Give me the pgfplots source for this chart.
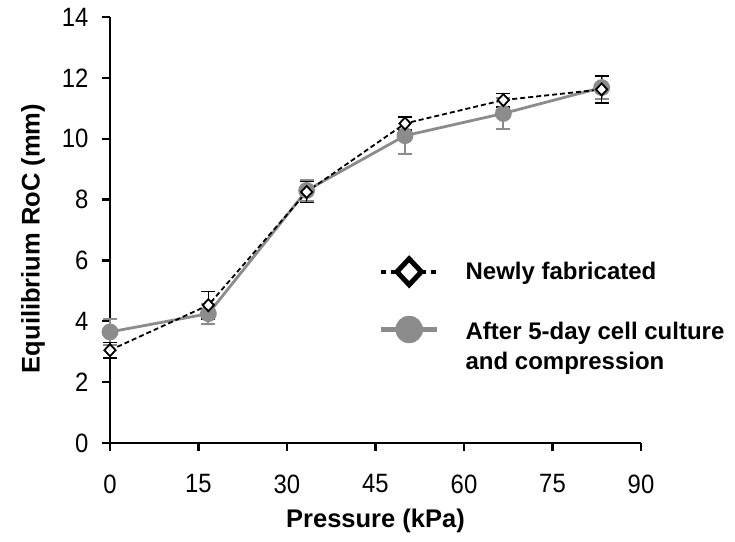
\documentclass[border=0pt]{standalone}
\usepackage{fontspec}
\setmainfont{Liberation Sans}[FakeStretch=0.9]
\newfontfamily\labfont{Liberation Sans}[UprightFont=* Bold]
\usepackage{pgfplots}
\pgfplotsset{compat=1.18}
\definecolor{grayser}{RGB}{140,140,140}

\begin{document}
\begin{tikzpicture}
\begin{axis}[
    at={(110pt,98pt)}, anchor=origin,
    scale only axis,
    width=531pt, height=426pt,
    xmin=0, xmax=90, ymin=0, ymax=14,
    xtick={0,15,...,90}, ytick={0,2,...,14},
    axis lines=left,
    axis line style={line width=2.6pt, -},
    tick style={line width=2.4pt, black},
    major tick length=8pt,
    tick align=outside,
    /pgf/number format/assume math mode=true,
    tick label style={font=\fontsize{26.5}{28}\selectfont},
    xticklabel style={yshift=-20pt},
    yticklabel style={xshift=-10pt},
    xlabel={\labfont\fontsize{25.5}{28}\selectfont Pressure (kPa)},
    ylabel={\labfont\fontsize{25.5}{28}\selectfont Equilibrium RoC (mm)},
    xlabel style={at={(axis description cs:0.5,-0.182)}, anchor=center},
    ylabel style={at={(axis description cs:-0.145,0.48)}, anchor=center},
    clip=false,
    legend cell align=left,
    legend style={draw=none, fill=none, inner sep=0pt, at={(axis cs:45.5,6.06)}, anchor=north west,
        font=\labfont\fontsize{24}{30}\selectfont, cells={align=left},
        row sep=31pt, column sep=24pt},
    legend image code/.code={
        \draw[#1] (0pt,0pt) -- (56pt,0pt);
        \draw[#1, solid] plot coordinates {(28pt,0pt)};
    },
]
% after 5-day culture (gray)
\addplot[grayser, line width=2.8pt, mark=*, mark size=7pt, forget plot,
    mark options={fill=grayser, draw=grayser},
    error bars/.cd, y dir=both, y explicit,
    error bar style={grayser, line width=1.8pt},
    error mark options={rotate=90, mark size=7pt, line width=1.8pt, grayser}]
coordinates {
    (0,3.65) +- (0,0.42)
    (16.67,4.25) +- (0,0.33)
    (33.33,8.3) +- (0,0.35)
    (50,10.1) +- (0,0.6)
    (66.67,10.83) +- (0,0.5)
    (83.33,11.68) +- (0,0.38)
};
% newly fabricated (black)
\addplot[black, line width=1.8pt, dash pattern=on 5pt off 3pt, mark=diamond*, mark size=6pt, forget plot,
    mark options={fill=white, draw=black, solid, line width=1.8pt, xscale=1.25},
    error bars/.cd, y dir=both, y explicit,
    error bar style={black, line width=1.6pt, solid},
    error mark options={rotate=90, mark size=7pt, line width=1.6pt, black}]
coordinates {
    (0,3.05) +- (0,0.25)
    (16.67,4.53) +- (0,0.45)
    (33.33,8.25) +- (0,0.35)
    (50,10.5) +- (0,0.22)
    (66.67,11.27) +- (0,0.22)
    (83.33,11.62) +- (0,0.45)
};
\addlegendimage{black, line width=4.5pt, dash pattern=on 5pt off 5pt, mark=diamond*, mark size=13pt,
    mark options={fill=white, draw=black, solid, line width=5pt, xscale=1.25}}
\addlegendentry{Newly fabricated}
\addlegendimage{legend image code/.code={
    \draw[grayser, line width=5pt] (0pt,17pt) -- (56pt,17pt);
    \fill[grayser] (28pt,17pt) circle (13.5pt);
    \path[draw=none] (0pt,-30pt) -- (0pt,30pt);
}}
\addlegendentry{After 5-day cell culture\\and compression}
\end{axis}
\pgfresetboundingbox
\path (0,0) rectangle (735pt,541pt);
\end{tikzpicture}
\end{document}
